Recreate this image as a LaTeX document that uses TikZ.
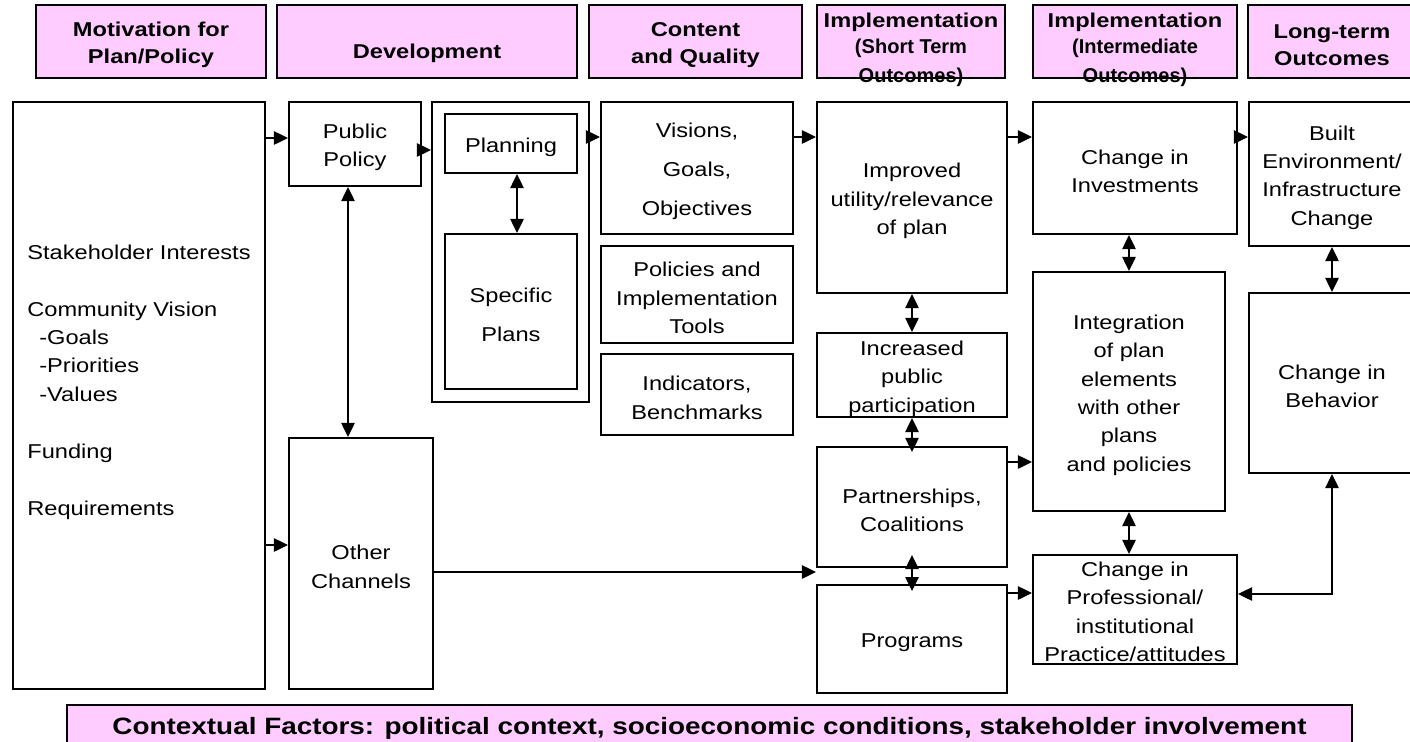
\documentclass[tikz,border=0pt]{standalone}
\usepackage{fontspec}
\setmainfont{Liberation Sans}[FakeStretch=1.18]
\newfontfamily\narrowfont{Liberation Sans}[FakeStretch=1.0]
\usepackage{xcolor}
\usetikzlibrary{arrows.meta, positioning}
\definecolor{hdrpink}{HTML}{FFCCFF}
\newcommand{\lift}[1]{\rule{0pt}{#1}}
\newcommand{\fl}{\lift{12.3pt}}

\begin{document}
\begin{tikzpicture}[
        x=0.02cm, y=-0.02cm,
        >={Triangle[length=8pt, width=7.5pt]},
        wh/.style 2 args={minimum width=#1*0.02cm, minimum height=#2*0.02cm},
        box/.style={rectangle, draw, line width=1.1pt, inner sep=0pt, align=center, font=\fontsize{11.4}{16.2}\selectfont},
        hdr/.style={box, fill=hdrpink, line width=1.3pt, font=\bfseries\fontsize{11.4}{15.5}\selectfont},
        hdrtext/.style={anchor=north, inner sep=0pt, align=center, font=\bfseries\fontsize{11.4}{15.5}\selectfont},
        arrow/.style={->, line width=1.1pt}
    ]
    \path[use as bounding box, clip] (0,0) rectangle (1410,741);

    % Column headers
    \node[hdr, wh={230}{73}] (hmot) at (151,41.5) {\fl Motivation for\\Plan/Policy};
    \node[hdr, wh={300}{73}] (hdev) at (427,41.5) {\lift{22pt}Development};
    \node[hdr, wh={213}{73}] (hcont) at (695.5,41.5) {\fl Content\\and Quality};
    \node[hdr, wh={188}{73}] (hshort) at (911,41.5) {};
    \node[hdrtext] (hshorttext) at (911,12.4)
        {Implementation\\[-0.7pt]{\narrowfont (Short Term}\\[1pt]{\narrowfont Outcomes)}};
    \node[hdr, wh={204}{73}] (hinter) at (1135,41.5) {};
    \node[hdrtext] (hintertext) at (1135,12.4)
        {Implementation\\[-0.7pt]{\narrowfont (Intermediate}\\[1pt]{\narrowfont Outcomes)}};
    \node[hdr, wh={168}{73}] (hlong) at (1332,41.5) {\fl Long-term\\Outcomes};

    % Motivation
    \node[box, wh={252}{587}] (stake) at (139,395.5) {};
    \node[align=left, font=\fontsize{11.4}{16.2}\selectfont] (stakeinfo) at (139,382)
        {Stakeholder Interests\\[16.2pt]Community Vision\\\hspace{0.6em}-Goals\\\hspace{0.6em}-Priorities\\\hspace{0.6em}-Values\\[16.2pt]Funding\\[16.2pt]Requirements};

    % Development
    \node[box, wh={132}{84}] (pubpol) at (355,144) {\fl Public\\Policy};
    \node[box, wh={144}{251}] (other) at (361,563.5) {\fl Other\\Channels};
    \node[box, wh={157}{300}] (planouter) at (510.5,252) {};
    \node[box, wh={132}{59}] (planning) at (511,143.5) {\fl Planning};
    \node[box, wh={132}{155}] (specific) at (511,311.5) {\fl Specific\\[6pt]Plans};

    % Content and quality
    \node[box, wh={192}{132}] (visions) at (697,168) {\fl Visions,\\[6pt]Goals,\\[6pt]Objectives};
    \node[box, wh={192}{97}] (policies) at (697,294.5) {\fl Policies and\\Implementation\\Tools};
    \node[box, wh={192}{81}] (indic) at (697,394.5) {\fl Indicators,\\Benchmarks};

    % Short term outcomes
    \node[box, wh={190}{191}] (improved) at (912,197.5) {\fl Improved\\utility/relevance\\of plan};
    \node[box, wh={190}{84}] (increased) at (912,375) {\fl Increased\\public\\participation};
    \node[box, wh={190}{120}] (partner) at (912,507) {\fl Partnerships,\\Coalitions};
    \node[box, wh={190}{108}] (programs) at (912,639) {\fl Programs};

    % Intermediate outcomes
    \node[box, wh={204}{132}] (changeinv) at (1135,168) {\fl Change in\\Investments};
    \node[box, wh={192}{239}] (integ) at (1129,391.5) {\fl Integration\\of plan\\elements\\with other\\plans\\and policies};
    \node[box, wh={204}{109}] (changeprof) at (1135,609.5) {\lift{11pt}Change in\\Professional/\\institutional\\Practice/attitudes};

    % Long-term outcomes
    \node[box, wh={166}{144}] (built) at (1332,174) {\fl Built\\Environment/\\Infrastructure\\Change};
    \node[box, wh={166}{180}] (behav) at (1332,383) {\fl Change in\\Behavior};

    % Context
    \node[hdr, wh={1285}{43}, font=\bfseries\fontsize{13.45}{16}\selectfont] (context) at (709.5,726.5)
        {\fl Contextual Factors: political context, socioeconomic conditions, stakeholder involvement};

    % Connections
    \draw[arrow] (stake.east |- 0,138) -- (pubpol.west |- 0,138);
    \draw[arrow] (stake.east |- 0,545) -- (other.west |- 0,545);
    \draw[arrow, <->] (pubpol.south -| 348,0) -- (other.north -| 348,0);
    \draw[arrow] (pubpol.east |- 0,150) -- (planouter.west |- 0,150);
    \draw[arrow, <->] (planning.south -| 517,0) -- (specific.north -| 517,0);
    \draw[arrow] (planouter.east |- 0,137) -- (visions.west |- 0,137);
    \draw[arrow] (visions.east |- 0,137) -- (improved.west |- 0,137);
    \draw[arrow] (improved.east |- 0,137) -- (changeinv.west |- 0,137);
    \draw[arrow] (changeinv.east |- 0,137) -- (built.west |- 0,137);
    \draw[arrow, <->] (improved.south) -- (increased.north);
    \draw[arrow, <->] (increased.south) -- ([yshift=-3.4pt]partner.north);
    \draw[arrow, <->] ([yshift=7.4pt]partner.south) -- ([yshift=-4pt]programs.north);
    \draw[arrow, <->] (integ.north) -- (integ.north |- changeinv.south);
    \draw[arrow, <->] (integ.south) -- (integ.south |- changeprof.north);
    \draw[arrow, <->] (built.south) -- (behav.north);
    \draw[arrow, <->] (behav.south) |- (changeprof.east |- 0,594);
    \draw[arrow] (other.east |- 0,572) -- (partner.west |- 0,572);
    \draw[arrow] (partner.east |- 0,462) -- (integ.west |- 0,462);
    \draw[arrow] (programs.east |- 0,593) -- (changeprof.west |- 0,593);

\end{tikzpicture}
\end{document}
